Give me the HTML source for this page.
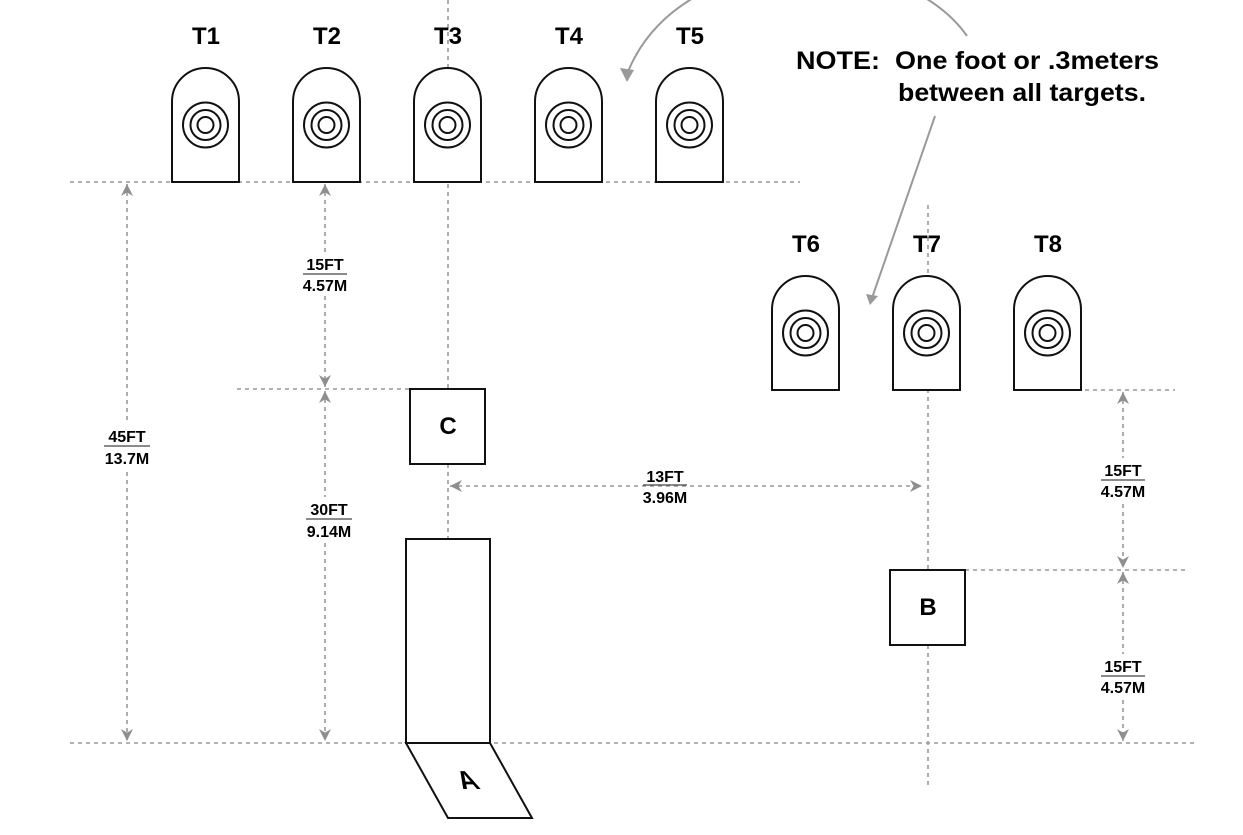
<!DOCTYPE html>
<html><head><meta charset="utf-8"><style>
html,body{margin:0;padding:0;background:#fff;}
svg{display:block;}
text{font-family:"Liberation Sans",Arial,sans-serif;font-weight:bold;fill:#000;}
</style></head><body>
<svg width="1243" height="835" viewBox="0 0 1243 835" xmlns="http://www.w3.org/2000/svg">
<defs>
<marker id="ah" viewBox="0 0 10 10" refX="10" refY="5" markerWidth="12" markerHeight="12" markerUnits="userSpaceOnUse" orient="auto-start-reverse">
<path d="M0,0 L10,5 L0,10 L3,5 Z" fill="#8e8e8e"/>
</marker>
<g id="tg" fill="#fff" stroke="#111" stroke-width="2">
<path d="M0,114 V33.5 A33.5,33.5 0 0 1 67,33.5 V114 Z"/>
<circle cx="33.5" cy="57" r="22.5" fill="none"/>
<circle cx="33.5" cy="57" r="15" fill="none"/>
<circle cx="33.5" cy="57" r="8" fill="none"/>
</g>
</defs>
<g stroke="#999" stroke-width="1.6" stroke-dasharray="4,4" fill="none">
<line x1="448" y1="0" x2="448" y2="743"/>
<line x1="928" y1="205" x2="928" y2="785"/>
<line x1="70" y1="182" x2="800" y2="182"/>
<line x1="237" y1="389" x2="410" y2="389"/>
<line x1="1085" y1="390" x2="1175" y2="390"/>
<line x1="965" y1="570" x2="1185" y2="570"/>
<line x1="70" y1="743" x2="1195" y2="743"/>
<line x1="127" y1="184" x2="127" y2="741" marker-start="url(#ah)" marker-end="url(#ah)"/>
<line x1="325" y1="184" x2="325" y2="387" marker-start="url(#ah)" marker-end="url(#ah)"/>
<line x1="325" y1="391" x2="325" y2="741" marker-start="url(#ah)" marker-end="url(#ah)"/>
<line x1="1123" y1="392" x2="1123" y2="568" marker-start="url(#ah)" marker-end="url(#ah)"/>
<line x1="1123" y1="572" x2="1123" y2="741" marker-start="url(#ah)" marker-end="url(#ah)"/>
<line x1="450" y1="486" x2="922" y2="486" marker-start="url(#ah)" marker-end="url(#ah)"/>
</g>
<use href="#tg" x="172" y="68"/>
<use href="#tg" x="293" y="68"/>
<use href="#tg" x="414" y="68"/>
<use href="#tg" x="535" y="68"/>
<use href="#tg" x="656" y="68"/>
<use href="#tg" x="772" y="276"/>
<use href="#tg" x="893" y="276"/>
<use href="#tg" x="1014" y="276"/>
<g font-size="24" text-anchor="middle">
<text x="206" y="44">T1</text><text x="327" y="44">T2</text><text x="448" y="44">T3</text>
<text x="569" y="44">T4</text><text x="690" y="44">T5</text>
<text x="806" y="252">T6</text><text x="927" y="252">T7</text><text x="1048" y="252">T8</text>
</g>
<g fill="#fff" stroke="#111" stroke-width="2">
<rect x="410" y="389" width="75" height="75"/>
<rect x="890" y="570" width="75" height="75"/>
<rect x="406" y="539" width="84" height="204"/>
<path d="M406,743 L490,743 L532,818 L448,818 Z"/>
</g>
<text x="448" y="434" font-size="24" text-anchor="middle">C</text>
<text x="928" y="615" font-size="24" text-anchor="middle">B</text>
<g transform="translate(472,789) skewX(28)"><text x="0" y="0" font-size="26" text-anchor="middle">A</text></g>
<g fill="none" stroke="#999" stroke-width="2">
<path d="M967,36 C900,-60 680,-60 627,74"/>
<line x1="935" y1="116" x2="872" y2="298"/>
</g>
<path d="M620,68 L627,82 L634,70 Z" fill="#999"/>
<path d="M866,294 L870,305 L878,296 Z" fill="#999"/>
<g font-size="25">
<text x="796" y="69" textLength="363" lengthAdjust="spacingAndGlyphs" xml:space="preserve">NOTE:  One foot or .3meters</text>
<text x="898" y="101" textLength="248" lengthAdjust="spacingAndGlyphs">between all targets.</text>
</g>
<g font-size="16" text-anchor="middle">
<rect x="298" y="252" width="54" height="44" fill="#fff"/>
<text x="325" y="270">15FT</text><line x1="303" y1="274" x2="347" y2="274" stroke="#444" stroke-width="1.2"/><text x="325" y="291">4.57M</text>
<rect x="98" y="424" width="58" height="44" fill="#fff"/>
<text x="127" y="442">45FT</text><line x1="104" y1="446" x2="150" y2="446" stroke="#444" stroke-width="1.2"/><text x="127" y="464">13.7M</text>
<rect x="300" y="497" width="58" height="44" fill="#fff"/>
<text x="329" y="515">30FT</text><line x1="306" y1="519" x2="352" y2="519" stroke="#444" stroke-width="1.2"/><text x="329" y="537">9.14M</text>
<rect x="633" y="465" width="64" height="18" fill="#fff"/><rect x="633" y="489" width="64" height="18" fill="#fff"/>
<text x="665" y="482">13FT</text><line x1="643" y1="485" x2="687" y2="485" stroke="#444" stroke-width="1.2"/><text x="665" y="503">3.96M</text>
<rect x="1096" y="458" width="54" height="44" fill="#fff"/>
<text x="1123" y="476">15FT</text><line x1="1101" y1="480" x2="1145" y2="480" stroke="#444" stroke-width="1.2"/><text x="1123" y="497">4.57M</text>
<rect x="1096" y="654" width="54" height="44" fill="#fff"/>
<text x="1123" y="672">15FT</text><line x1="1101" y1="676" x2="1145" y2="676" stroke="#444" stroke-width="1.2"/><text x="1123" y="693">4.57M</text>
</g>
</svg>
</body></html>
